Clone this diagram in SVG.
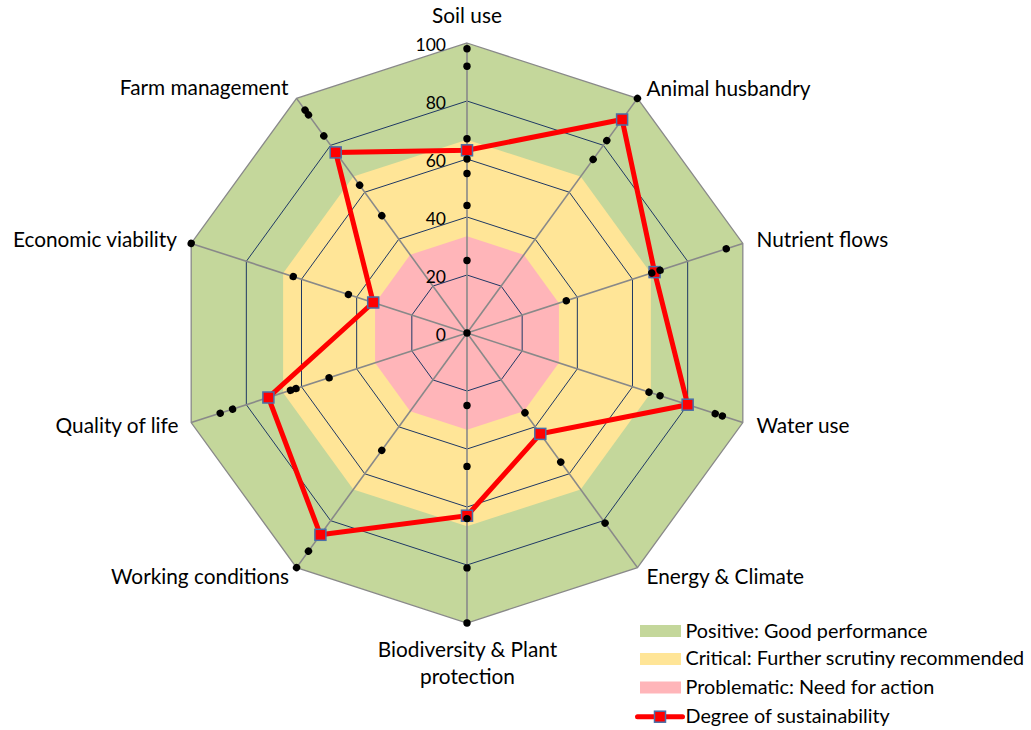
<svg xmlns="http://www.w3.org/2000/svg" xmlns:xlink="http://www.w3.org/1999/xlink" width="1031" height="730" viewBox="0 0 1031 730">
<style>
text{font-family:Lato,"Liberation Sans",sans-serif;fill:#000}
.lab{font-size:20.8px}
.num{font-size:17.5px;text-anchor:end}
.leg{font-size:19.8px}
.ring{fill:none;stroke:#1F3864;stroke-width:1}
.axis{stroke:#898989;stroke-width:1.6}
.dot{fill:#000}
.sq{fill:#FF0000;stroke:#4A6FA8;stroke-width:1.5}
</style>
<defs>
<circle id="d" cx="0" cy="0" r="3.7" class="dot"/>
<rect id="s" x="-5.5" y="-5.5" width="11" height="11" class="sq"/>
</defs>
<g id="bands">
<polygon fill="#C4D79B" points="467,43 637.46,98.39 742.82,243.39 742.82,422.61 637.46,567.61 467,623 296.54,567.61 191.18,422.61 191.18,243.39 296.54,98.39"/>
<polygon fill="#FFE597" points="467,139.67 580.64,176.59 650.88,273.26 650.88,392.74 580.64,489.41 467,526.33 353.36,489.41 283.12,392.74 283.12,273.26 353.36,176.59"/>
<polygon fill="#FFB5B9" points="467,236.33 523.82,254.79 558.94,303.13 558.94,362.87 523.82,411.21 467,429.67 410.18,411.21 375.06,362.87 375.06,303.13 410.18,254.79"/>
</g>
<g id="grid">
<polygon class="ring" points="467,101 603.37,145.31 687.66,261.31 687.66,404.69 603.37,520.69 467,565 330.63,520.69 246.34,404.69 246.34,261.31 330.63,145.31"/>
<polygon class="ring" points="467,159 569.28,192.23 632.49,279.23 632.49,386.77 569.28,473.77 467,507 364.72,473.77 301.51,386.77 301.51,279.23 364.72,192.23"/>
<polygon class="ring" points="467,217 535.18,239.16 577.33,297.16 577.33,368.84 535.18,426.84 467,449 398.82,426.84 356.67,368.84 356.67,297.16 398.82,239.16"/>
<polygon class="ring" points="467,275 501.09,286.08 522.16,315.08 522.16,350.92 501.09,379.92 467,391 432.91,379.92 411.84,350.92 411.84,315.08 432.91,286.08"/>
<polygon fill="none" stroke="#898989" stroke-width="1.3" points="467,43 637.46,98.39 742.82,243.39 742.82,422.61 637.46,567.61 467,623 296.54,567.61 191.18,422.61 191.18,243.39 296.54,98.39"/>
<g class="axis">
<line x1="467" y1="333" x2="467" y2="43"/>
<line x1="467" y1="333" x2="637.46" y2="98.39"/>
<line x1="467" y1="333" x2="742.82" y2="243.39"/>
<line x1="467" y1="333" x2="742.82" y2="422.61"/>
<line x1="467" y1="333" x2="637.46" y2="567.61"/>
<line x1="467" y1="333" x2="467" y2="623"/>
<line x1="467" y1="333" x2="296.54" y2="567.61"/>
<line x1="467" y1="333" x2="191.18" y2="422.61"/>
<line x1="467" y1="333" x2="191.18" y2="243.39"/>
<line x1="467" y1="333" x2="296.54" y2="98.39"/>
</g>
</g>
<g id="scale">
<text class="num" x="446" y="50.5">100</text>
<text class="num" x="446" y="108.5">80</text>
<text class="num" x="446" y="166.5">60</text>
<text class="num" x="446" y="224.5">40</text>
<text class="num" x="446" y="282.5">20</text>
<text class="num" x="446" y="340.5">0</text>
</g>
<g id="connectors">
<polygon fill="none" stroke="#FF0000" stroke-width="5" stroke-linejoin="miter" points="467,150.3 622.1,119.5 654.6,272.1 687.66,404.69 540.3,433.9 467,515.7 320.4,534.8 268.4,397.5 373.2,302.5 335.7,152.4"/>
</g>
<g id="markers">
<use xlink:href="#s" x="467" y="150.3"/>
<use xlink:href="#s" x="622.1" y="119.5"/>
<use xlink:href="#s" x="654.6" y="272.1"/>
<use xlink:href="#s" x="687.66" y="404.69"/>
<use xlink:href="#s" x="540.3" y="433.9"/>
<use xlink:href="#s" x="467" y="515.7"/>
<use xlink:href="#s" x="320.4" y="534.8"/>
<use xlink:href="#s" x="268.4" y="397.5"/>
<use xlink:href="#s" x="373.2" y="302.5"/>
<use xlink:href="#s" x="335.7" y="152.4"/>
</g>
<g id="dots">
<use xlink:href="#d" x="467" y="333"/>
<g transform="rotate(0 467 333)">
<use xlink:href="#d" x="467" y="48.8"/><use xlink:href="#d" x="467" y="66.2"/><use xlink:href="#d" x="467" y="138.7"/><use xlink:href="#d" x="467" y="159"/><use xlink:href="#d" x="467" y="173.5"/><use xlink:href="#d" x="467" y="205.4"/><use xlink:href="#d" x="467" y="260.5"/>
</g>
<g transform="rotate(36 467 333)">
<use xlink:href="#d" x="467" y="43"/><use xlink:href="#d" x="467" y="95.2"/><use xlink:href="#d" x="467" y="118.4"/>
</g>
<g transform="rotate(72 467 333)">
<use xlink:href="#d" x="467" y="228.6"/><use xlink:href="#d" x="467" y="138.7"/><use xlink:href="#d" x="467" y="130"/><use xlink:href="#d" x="467" y="60.4"/>
</g>
<g transform="rotate(108 467 333)">
<use xlink:href="#d" x="467" y="141.6"/><use xlink:href="#d" x="467" y="130"/><use xlink:href="#d" x="467" y="72"/><use xlink:href="#d" x="467" y="64.5"/>
</g>
<g transform="rotate(144 467 333)">
<use xlink:href="#d" x="467" y="234.4"/><use xlink:href="#d" x="467" y="173.5"/><use xlink:href="#d" x="467" y="98.1"/>
</g>
<g transform="rotate(180 467 333)">
<use xlink:href="#d" x="467" y="260.5"/><use xlink:href="#d" x="467" y="199.6"/><use xlink:href="#d" x="467" y="147.4"/><use xlink:href="#d" x="467" y="98.1"/><use xlink:href="#d" x="467" y="43"/>
</g>
<g transform="rotate(216 467 333)">
<use xlink:href="#d" x="467" y="188"/><use xlink:href="#d" x="467" y="63.3"/><use xlink:href="#d" x="467" y="43"/>
</g>
<g transform="rotate(252 467 333)">
<use xlink:href="#d" x="467" y="188"/><use xlink:href="#d" x="467" y="153.2"/><use xlink:href="#d" x="467" y="147.4"/><use xlink:href="#d" x="467" y="86.5"/><use xlink:href="#d" x="467" y="73.5"/>
</g>
<g transform="rotate(288 467 333)">
<use xlink:href="#d" x="467" y="43"/><use xlink:href="#d" x="467" y="150.3"/><use xlink:href="#d" x="467" y="208.3"/>
</g>
<g transform="rotate(324 467 333)">
<use xlink:href="#d" x="467" y="57.5"/><use xlink:href="#d" x="467" y="63.3"/><use xlink:href="#d" x="467" y="89.4"/><use xlink:href="#d" x="467" y="150.3"/><use xlink:href="#d" x="467" y="188"/>
</g>
</g>
<g id="labels">
<g id="n-soil"><text class="lab" x="467" y="22.7" text-anchor="middle">Soil use</text></g>
<g id="n-animal"><text class="lab" x="646.5" y="95.7">Animal husbandry</text></g>
<g id="n-nutrient"><text class="lab" x="756.5" y="247.3">Nutrient flows</text></g>
<g id="n-water"><text class="lab" x="756.5" y="432.7">Water use</text></g>
<g id="n-energy"><text class="lab" x="646.5" y="584">Energy &amp; Climate</text></g>
<g id="n-bio"><text class="lab" x="467.5" y="657.3" text-anchor="middle">Biodiversity &amp; Plant</text><text class="lab" x="467.5" y="684" text-anchor="middle">protection</text></g>
<g id="n-working"><text class="lab" x="289" y="583.5" text-anchor="end">Working conditions</text></g>
<g id="n-quality"><text class="lab" x="178.5" y="433.3" text-anchor="end">Quality of life</text></g>
<g id="n-economic"><text class="lab" x="177" y="247.3" text-anchor="end">Economic viability</text></g>
<g id="n-farm"><text class="lab" x="288.5" y="95.3" text-anchor="end">Farm management</text></g>
</g>
<g id="legend">
<rect x="640" y="625" width="41" height="12" fill="#C4D79B"/>
<text class="leg" x="685.5" y="637.5">Positive: Good performance</text>
<rect x="640" y="653" width="41" height="12" fill="#FFE597"/>
<text class="leg" x="685.5" y="665.3">Critical: Further scrutiny recommended</text>
<rect x="640" y="681.5" width="41" height="12" fill="#FFB5B9"/>
<text class="leg" x="685.5" y="693.5">Problematic: Need for action</text>
<line x1="637.5" y1="716.7" x2="682.5" y2="716.7" stroke="#FF0000" stroke-width="5" stroke-linecap="round"/>
<use xlink:href="#s" x="660" y="716.7"/>
<text class="leg" x="685.5" y="722.8">Degree of sustainability</text>
</g>
</svg>
